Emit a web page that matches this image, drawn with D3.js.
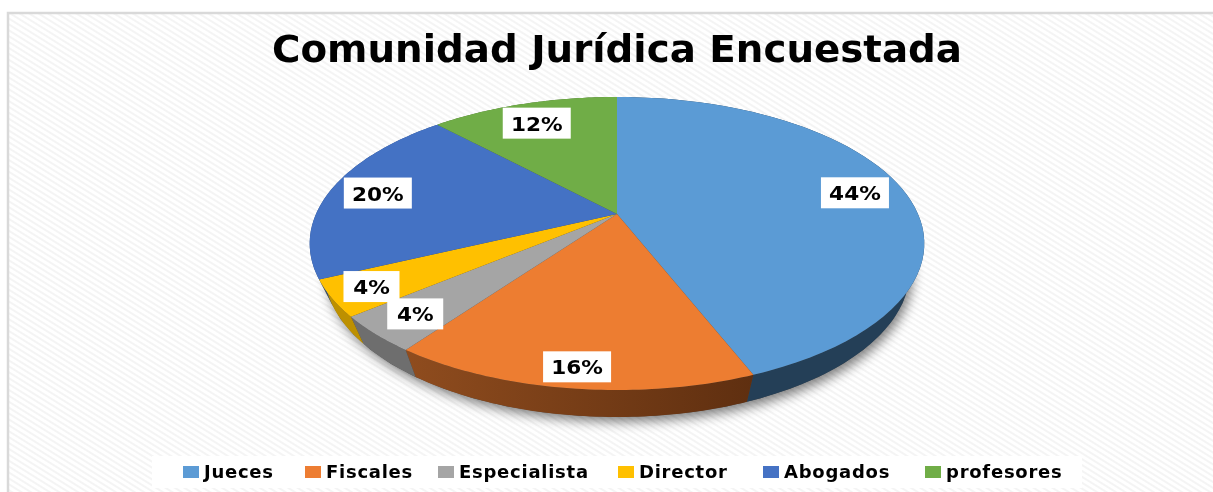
<!DOCTYPE html>
<html><head><meta charset="utf-8">
<script src="https://cdn.jsdelivr.net/npm/d3@7"></script>
<style>html,body{margin:0;padding:0;background:#fff}svg{display:block}
text{font-family:"DejaVu Sans",sans-serif;font-weight:700;fill:#000}</style>
</head><body><div id="c"></div>
<script>
const titleText = "Comunidad Jurídica Encuestada";
const categories = ["Jueces","Fiscales","Especialista","Director","Abogados","profesores"];
const values = [44,16,4,4,20,12];
const colors = ["#5b9bd5","#ed7d31","#a5a5a5","#ffc000","#4472c4","#70ad47"];
const sideColors = ["#243f57","#7a4019","#6e6e6e","#bd9000","#2a4a80","#44692b"];
const legendX = [183,305,438,618,763,925];
const W=1213,H=492;
const svg=d3.select("#c").append("svg").attr("width",W).attr("height",H);
const defs=svg.append("defs");
const pat=defs.append("pattern").attr("id","hatch").attr("width",5).attr("height",5)
 .attr("patternUnits","userSpaceOnUse").attr("patternTransform","rotate(32)");
pat.append("rect").attr("width",5).attr("height",5).attr("fill","#fff");
pat.append("rect").attr("width",5).attr("height",2).attr("fill","#f4f4f4");
defs.append("filter").attr("id","shadow").attr("x","-10%").attr("y","-10%").attr("width","120%").attr("height","130%")
 .append("feGaussianBlur").attr("stdDeviation",6);
defs.append("filter").attr("id","soft").append("feGaussianBlur").attr("stdDeviation",0.45);
const og=defs.append("linearGradient").attr("id","orangeSide");
og.append("stop").attr("offset","0%").attr("stop-color","#8f4c1e");
og.append("stop").attr("offset","100%").attr("stop-color","#5f2f10");

svg.append("rect").attr("x",8).attr("y",13).attr("width",W).attr("height",H).attr("fill","url(#hatch)")
 .attr("stroke","#d9d9d9").attr("stroke-width",2.5);

// Tilted disc: scales for plan coordinates, then perspective division
const cx=617, cy=214, persp=-0.2014;
const sx=d3.scaleLinear().domain([0,1]).range([0,301]);
const sy=d3.scaleLinear().domain([0,1]).range([0,140.6]);
const topFace=t=>{const X=Math.sin(t),Y=-Math.cos(t),d=1+persp*Y;return [cx+sx(X)/d,cy+sy(Y)/d];};
const lowFace=t=>{const [x,y]=topFace(t);return [cx+(x-cx)*0.953,y+27];};
const pie=d3.pie().sort(null).value(d=>d)(values);
const sample=(a,b,f)=>d3.range(0,61).map(i=>f(a+(b-a)*i/60));
const line=d3.line();
const outline=f=>line(sample(0,2*Math.PI,f))+"Z";

svg.append("path").attr("d",outline(t=>{const [x,y]=lowFace(t);return [x+3,y+5];}))
 .attr("fill","#000").attr("opacity",0.5).attr("filter","url(#shadow)");
svg.append("path").attr("d",outline(lowFace)).attr("fill","#444");

const gPie=svg.append("g");
gPie.selectAll("path.side").data(pie).join("path").attr("class","side")
 .attr("d",d=>line(sample(d.startAngle,d.endAngle,topFace).concat(sample(d.startAngle,d.endAngle,lowFace).reverse()))+"Z")
 .attr("fill",(d,i)=>i===1?"url(#orangeSide)":sideColors[i]);
gPie.selectAll("path.top").data(pie).join("path").attr("class","top")
 .attr("d",d=>line([[cx,cy]].concat(sample(d.startAngle,d.endAngle,topFace)))+"Z")
 .attr("fill",(d,i)=>colors[i]);

// title
const soft=svg.append("g").attr("filter","url(#soft)");
soft.append("text").attr("x",617).attr("y",62).attr("text-anchor","middle")
 .attr("font-size",37).attr("textLength",690).attr("lengthAdjust","spacingAndGlyphs").text(titleText);

// data labels: placed along each slice's mid radius, then nudged as in the reference
const labelR=[0.83,0.80,0.80,0.98,0.82,0.85];
const labelShift=[[0,0],[-4,20],[-15,7],[33,-10],[-4,0],[1,5]];
const lab=soft.selectAll("g.lab").data(pie).join("g").attr("class","lab").attr("transform",(d,i)=>{
  const m=(d.startAngle+d.endAngle)/2,X=Math.sin(m)*labelR[i],Y=-Math.cos(m)*labelR[i],dd=1+persp*Y;
  return `translate(${cx+sx(X)/dd+labelShift[i][0]},${cy+sy(Y)/dd+labelShift[i][1]})`;});
lab.append("rect").attr("x",d=>d.value>=10?-34:-28).attr("width",d=>d.value>=10?68:56)
 .attr("y",-15.5).attr("height",31).attr("fill","#fff");
lab.append("text").attr("text-anchor","middle").attr("transform","translate(0,7.5) scale(1.08,1)").attr("font-size",20)
 .text(d=>d.value+"%");

// legend
svg.insert("rect","g").attr("x",152).attr("y",456).attr("width",930).attr("height",32).attr("fill","#fff");
const leg=soft.selectAll("g.leg").data(categories).join("g").attr("class","leg")
 .attr("transform",(d,i)=>`translate(${legendX[i]},472)`);
leg.append("rect").attr("y",-6).attr("width",16).attr("height",12).attr("fill",(d,i)=>colors[i]);
leg.append("text").attr("transform","translate(21,6) scale(1.06,1)").attr("letter-spacing",0.7).attr("font-size",17).text(d=>d);
</script></body></html>
